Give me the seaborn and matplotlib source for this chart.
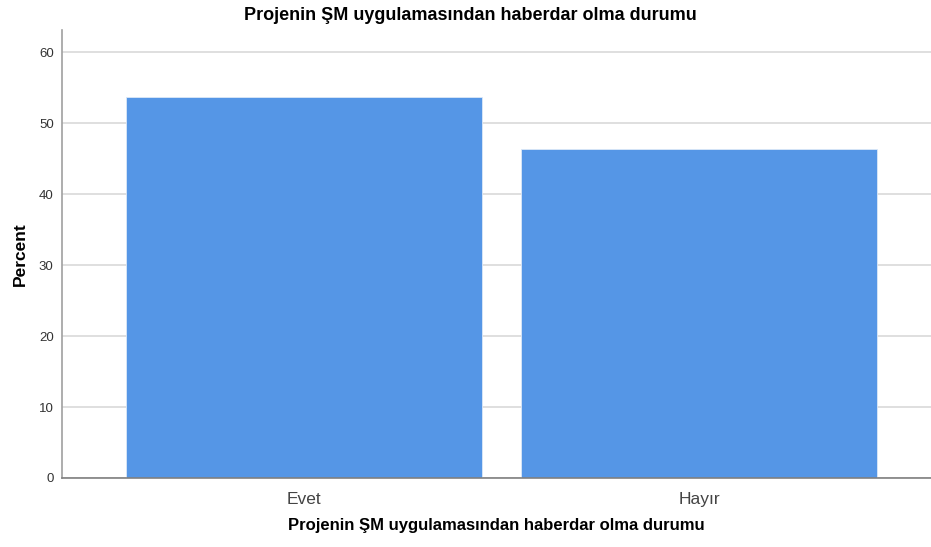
import matplotlib
matplotlib.use("Agg")
import matplotlib.pyplot as plt
import seaborn as sns
import pandas as pd

categories = ["Evet", "Hayır"]
percent = [53.6, 46.4]
yticks = [0, 10, 20, 30, 40, 50, 60]
title = "Projenin ŞM uygulamasından haberdar olma durumu"

sns.set_theme(style="white")
plt.rcParams['font.family'] = ['Liberation Sans', 'DejaVu Sans']

df = pd.DataFrame({"cat": categories, "pct": percent})

fig = plt.figure(figsize=(9.31, 5.47), dpi=100)
ax = fig.add_axes([62/931, 1-478/547, 1-62/931, (478-30)/547])
ax.set_axisbelow(True)
ax.yaxis.grid(True, color="#d9d9d9", linewidth=1.2)
sns.barplot(data=df, x="cat", y="pct", color="#5596E6", saturation=1,
            width=0.9, edgecolor="#dce8f7", linewidth=0.6, ax=ax)
ax.set_xlim(-0.613, 1.587)
ax.set_ylim(0, 63.1)
ax.set_yticks(yticks)
ax.tick_params(axis="y", labelsize=9.5, colors="#333333", length=0, pad=6)
ax.tick_params(axis="x", labelsize=12.5, colors="#444444", length=0, pad=10)
for s in ["top", "right"]:
    ax.spines[s].set_visible(False)
ax.spines["left"].set_color("#a0a0a0")
ax.spines["left"].set_linewidth(1.2)
ax.spines["bottom"].set_color("#808080")
ax.spines["bottom"].set_linewidth(1.2)
ax.set_xlabel(title, fontsize=12, fontweight="bold", color="black", labelpad=8)
ax.set_ylabel("Percent", fontsize=12.5, fontweight="bold", color="black", labelpad=8)
fig.text(470/931, 1-16/547, title, ha="center", va="center", fontsize=13,
         fontweight="bold", color="black")
fig.savefig("out.png", dpi=100)
